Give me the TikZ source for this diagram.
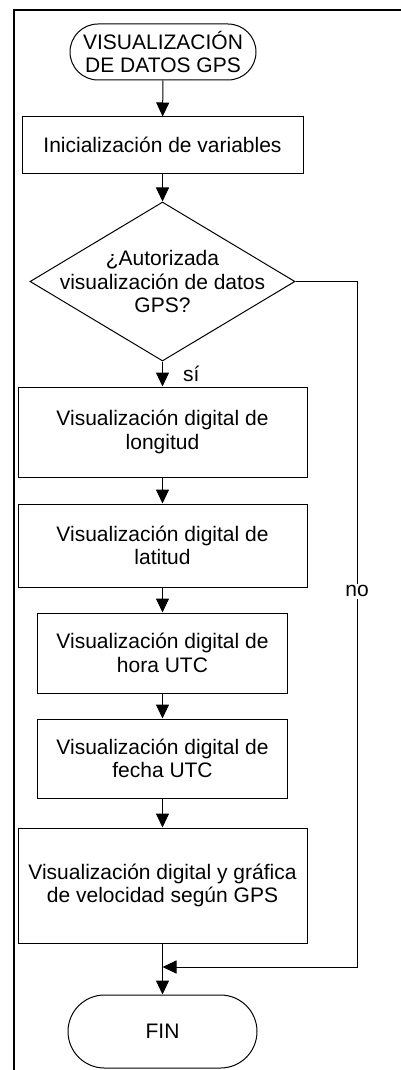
\documentclass[tikz,border=0pt]{standalone}
\usepackage{fontspec}
\setmainfont{Liberation Sans}
\usetikzlibrary{shapes.geometric,shapes.misc,arrows.meta}
\begin{document}
\begin{tikzpicture}[x=1pt,y=-1pt,
  font=\fontsize{21}{23.3}\selectfont,
  proc/.style={draw,line width=1pt,align=center,inner sep=0pt},
  term/.style={draw,line width=1pt,rounded rectangle,align=center,inner sep=0pt},
  decision/.style={draw,line width=1pt,diamond,inner sep=0pt,minimum width=265,minimum height=159},
  flow/.style={line width=1pt,-{Triangle[length=14pt,width=13pt]}}]
\useasboundingbox (0,0) rectangle (401,1070);
\clip (0,0) rectangle (401,1070);
\draw[line width=2pt] (14,1075) -- (14,10) -- (405,10);
\node[term,minimum width=186,minimum height=56] (start) at (163,52) {VISUALIZACIÓN\\DE DATOS GPS};
\node[proc,minimum width=281,minimum height=56] (init) at (162.5,145) {Inicialización de variables};
\node[decision] (ask) at (162.5,281.5) {};
\node[align=center,inner sep=0pt] (asktext) at (ask) {¿Autorizada\\visualización de datos\\GPS?};
\node[proc,minimum width=289,minimum height=90] (lon) at (162.5,432) {Visualización digital de\\longitud};
\node[proc,minimum width=289,minimum height=83] (lat) at (162.5,545.5) {Visualización digital de\\latitud};
\node[proc,minimum width=250,minimum height=80] (hora) at (162.5,653) {Visualización digital de\\hora UTC};
\node[proc,minimum width=250,minimum height=79] (fecha) at (162.5,758.5) {Visualización digital de\\fecha UTC};
\node[proc,minimum width=289,minimum height=115] (vel) at (162.5,885.5) {Visualización digital y gráfica\\de velocidad según GPS};
\node[term,minimum width=189,minimum height=73] (fin) at (162.5,1031.5) {FIN};
\coordinate (turn) at (357,281.5);
\coordinate (join) at (162.5,967);
% connectors
\draw[flow] (start) -- (init);
\draw[flow] (init) -- (ask);
\draw[flow] (ask) -- node[anchor=west,xshift=20pt,inner sep=0pt] {sí} (lon);
\draw[flow] (lon) -- (lat);
\draw[flow] (lat) -- (hora);
\draw[flow] (hora) -- (fecha);
\draw[flow] (fecha) -- (vel);
\draw[flow] (vel) -- (fin);
\draw[flow] (ask.east) -- (turn) |- node[pos=0.226,fill=white,inner sep=2pt] {no} (join);
\end{tikzpicture}
\end{document}
